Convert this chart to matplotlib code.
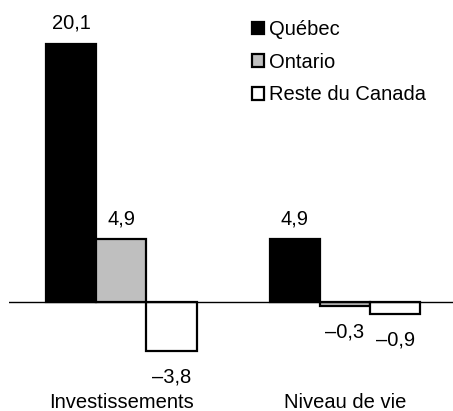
import matplotlib.pyplot as plt
import numpy as np

plt.rcParams['font.family'] = ['Liberation Sans', 'DejaVu Sans']

categories = ['Investissements', 'Niveau de vie']
series = ['Québec', 'Ontario', 'Reste du Canada']
quebec = [20.1, 4.9]
ontario = [4.9, -0.3]
reste = [-3.8, -0.9]

colors = ['#000000', '#bfbfbf', '#ffffff']

fig = plt.figure(figsize=(4.53, 4.11), dpi=100)
W, H = 453, 411
ax = fig.add_axes([9 / W, (H - 360) / H, 444 / W, 340 / H])

x = np.arange(len(categories))
w = 0.224
for i, (name, vals, col) in enumerate(zip(series, [quebec, ontario, reste], colors)):
    xs = x + (i - 1) * w
    ax.bar(xs, vals, width=w, color=col, edgecolor='black', linewidth=1.6,
           label=name, zorder=2)
    for xi, v in zip(xs, vals):
        lab = ('%.1f' % v).replace('.', ',').replace('-', '\u2013')
        if v >= 0:
            ax.annotate(lab, (xi, v), xytext=(0, 11), textcoords='offset pixels',
                        ha='center', va='bottom', fontsize=14.5)
        else:
            ax.annotate(lab, (xi, v), xytext=(0, -17), textcoords='offset pixels',
                        ha='center', va='top', fontsize=14.5)

ax.axhline(0, color='black', linewidth=1, zorder=3)
ax.set_xlim(-0.503, 1.483)
ax.set_ylim(-4.52, 21.96)
ax.axis('off')

for xi, c in zip(x, categories):
    ax.annotate(c, (xi, -4.52), xytext=(0, -42), textcoords='offset pixels',
                ha='center', va='center', fontsize=14.5, annotation_clip=False)

leg = ax.legend(loc='upper left', bbox_to_anchor=(252 / W, 1 - 20 / H),
                bbox_transform=fig.transFigure, frameon=False, fontsize=14.5,
                handlelength=0.6, handleheight=0.6, handletextpad=0.25,
                labelspacing=0.68, borderpad=0, borderaxespad=0)

fig.savefig('out.png', dpi=100)
